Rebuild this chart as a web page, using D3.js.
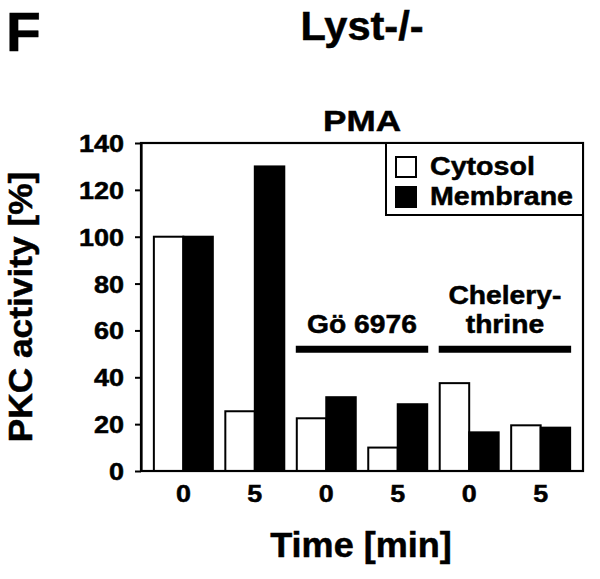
<!DOCTYPE html>
<html>
<head>
<meta charset="utf-8">
<script src="https://cdn.jsdelivr.net/npm/d3@7"></script>
<style>
  body { margin: 0; background: #fff; }
  text { font-family: "Liberation Sans", Arial, Helvetica, sans-serif; font-weight: bold; fill: #000; stroke: #000; stroke-width: 0.5px; }
</style>
</head>
<body>
<svg id="chart" width="600" height="579"></svg>
<script>
// ---- data ----
const timeLabels = ["0", "5", "0", "5", "0", "5"];
const seriesNames = ["Cytosol", "Membrane"];
const cytosol = [100, 25.5, 22.5, 10, 37.5, 19.5];
const membrane = [100, 130, 31.5, 28.5, 16.5, 18.5];
const yTicks = [0, 20, 40, 60, 80, 100, 120, 140];
const treatLabels = [["Gö 6976"], ["Chelery-", "thrine"]];
const treatFrom = [2, 4];
const treatTo = [3, 5];
const treatLevel = 52;

// ---- layout ----
const svg = d3.select("#chart");
const L = 141, R = 583, T = 143, B = 471;

const x0 = d3.scaleBand().domain(d3.range(timeLabels.length)).range([L, R])
  .paddingInner(0.175).paddingOuter(0.18);
const x1 = d3.scaleBand().domain(seriesNames).range([0, x0.bandwidth()]).padding(0);
const y = d3.scaleLinear().domain([0, 140]).range([B, T]);
const fills = { Cytosol: "#fff", Membrane: "#000" };

function label(txt, x, yy, size, sx, anchor, rot) {
  return svg.append("text")
    .attr("transform", `translate(${x},${yy}) rotate(${rot || 0}) scale(${sx},1)`)
    .attr("text-anchor", anchor || "middle")
    .style("font-size", size + "px")
    .text(txt);
}

// titles
label("F", 6, 51, 56, 1.02, "start");
label("Lyst-/-", (L + R) / 2, 40, 40, 1.04, "middle");
label("PMA", (L + R) / 2, 131, 30, 1.17, "middle");

// bars
const data = timeLabels.map((t, i) => ({ i, values: [
  { key: "Cytosol", v: cytosol[i] }, { key: "Membrane", v: membrane[i] }] }));
const grp = svg.append("g").selectAll("g").data(data).join("g")
  .attr("transform", d => `translate(${x0(d.i)},0)`);
grp.selectAll("rect").data(d => d.values).join("rect")
  .attr("x", d => x1(d.key))
  .attr("y", d => y(d.v))
  .attr("width", x1.bandwidth())
  .attr("height", d => y(0) - y(d.v))
  .attr("fill", d => fills[d.key])
  .attr("stroke", "#000")
  .attr("stroke-width", 2);

// frame
svg.append("rect").attr("x", L).attr("y", T).attr("width", R - L).attr("height", B - T)
  .attr("fill", "none").attr("stroke", "#000").attr("stroke-width", 2.2);

// y axis
const ySx = 1.15;
const yAx = svg.append("g").attr("transform", `translate(${L},0)`)
  .call(d3.axisLeft(y).tickValues(yTicks).tickSize(6).tickSizeOuter(0));
yAx.select(".domain").attr("stroke-width", 2.2);
yAx.selectAll(".tick line").attr("stroke-width", 2);
yAx.selectAll(".tick text")
  .attr("x", -17 / ySx).attr("dy", "0.36em")
  .attr("transform", `scale(${ySx},1)`)
  .style("font-size", "23.5px").style("font-family", null);

// x tick labels
timeLabels.forEach((t, i) => {
  label(t, x0(i) + x0.bandwidth() / 2, 502, 24, 1.12, "middle");
});

// axis titles
label("Time [min]", 361, 557, 35, 1.03, "middle");
label("PKC activity [%]", 32, (T + B) / 2, 33, 1.07, "middle", -90);

// treatment annotations
treatLabels.forEach((lines, k) => {
  const xa = x0(treatFrom[k]) - 1;
  const xb = x0(treatTo[k]) + x0.bandwidth() + 1;
  const ly = y(treatLevel);
  svg.append("line").attr("x1", xa).attr("x2", xb).attr("y1", ly).attr("y2", ly)
    .attr("stroke", "#000").attr("stroke-width", 7);
  const n = lines.length;
  lines.forEach((s, j) => {
    label(s, (xa + xb) / 2, ly - 16 - (n - 1 - j) * 29, 25, 1.13, "middle");
  });
});

// legend
const lg = svg.append("g");
lg.append("rect").attr("x", 386).attr("y", T).attr("width", R - 386).attr("height", 72)
  .attr("fill", "#fff").attr("stroke", "#000").attr("stroke-width", 2);
seriesNames.forEach((s, i) => {
  lg.append("rect").attr("x", 396).attr("y", 157 + i * 30).attr("width", 20).attr("height", 20)
    .attr("fill", fills[s]).attr("stroke", "#000").attr("stroke-width", 2);
  label(s, 430, 175 + i * 30, 26, 1.1, "start");
});
</script>
</body>
</html>
